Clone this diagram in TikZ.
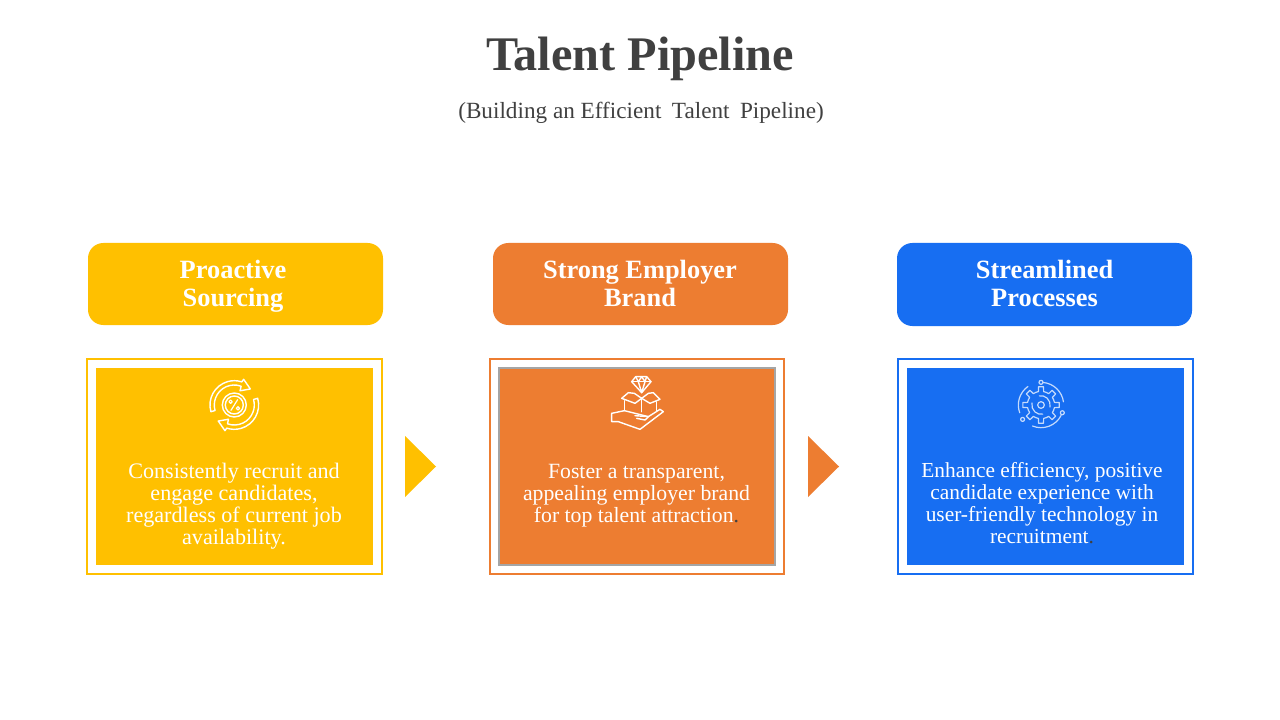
\documentclass[tikz,border=0pt]{standalone}
\usepackage{fontspec}
\setmainfont{Liberation Serif}
\definecolor{cyellow}{HTML}{FFC000}
\definecolor{corange}{HTML}{ED7D31}
\definecolor{cblue}{HTML}{176EF2}
\definecolor{cgrey}{HTML}{A5A5A5}
\definecolor{cink}{HTML}{404040}
\definecolor{cdot}{HTML}{404040}
\tikzset{
  hdrtext/.style={text=white,align=center,font=\fontsize{19.8}{21}\selectfont\bfseries,inner sep=0},
  bodytext/.style={text=white,align=center,inner sep=0},
  ticon/.style={line width=1.05pt,draw=white,line join=round,line cap=round},
  gicon/.style={line width=.9pt,draw=white!75!cblue,line join=round,line cap=round},
}
\begin{document}
\begin{tikzpicture}[x=.75pt,y=-.75pt]
\useasboundingbox (0,0) rectangle (1280,720);
\fill[white] (0,0) rectangle (1280,720);
\node[text=cink,font=\fontsize{36.2}{38}\selectfont\bfseries,inner sep=0] (title) at (640,59) {Talent Pipeline};
\node[text=cink,font=\fontsize{17.4}{20}\selectfont,inner sep=0] (subtitle) at (641,113) {(Building an Efficient\hspace{.2em} Talent\hspace{.2em} Pipeline)};

% headers
\fill[cyellow,rounded corners=11.5pt] (88,243) rectangle (383,325);
\fill[corange,rounded corners=11.5pt] (493,243) rectangle (788,325);
\fill[cblue,rounded corners=11.5pt] (897,243) rectangle (1192,326);
\node[hdrtext] (h1) at (233,286.5) {Proactive\\Sourcing};
\node[hdrtext] (h2) at (640,283.5) {Strong Employer\\Brand};
\node[hdrtext] (h3) at (1044.5,283.5) {Streamlined\\Processes};

% frames
\draw[cyellow,line width=1.5pt] (87,359) rectangle (382,574);
\draw[corange,line width=1.5pt] (490,359) rectangle (784,574);
\draw[cblue,line width=1.5pt] (898,359) rectangle (1193,574);
\fill[cyellow] (96,368) rectangle (373,565);
\draw[cgrey,line width=2.2pt,fill=corange] (499,368) rectangle (775,565);
\fill[cblue] (907,368) rectangle (1184,565);

% chevrons
\fill[cyellow] (405,436) -- (436,466.5) -- (405,497) -- cycle;
\fill[corange] (808,436) -- (839,466.5) -- (808,497) -- cycle;

% body texts
\node[bodytext,font=\fontsize{16.6}{16.5}\selectfont] (b1) at (234,506) {Consistently recruit and\\engage candidates,\\regardless of current job\\availability.};
\node[bodytext,font=\fontsize{16.3}{16.5}\selectfont] (b2) at (636.5,496) {Foster a transparent,\\appealing employer brand\\for top talent attraction\textcolor{cdot}{.}};
\node[bodytext,font=\fontsize{16.05}{16.5}\selectfont] (b3) at (1042,503) {Enhance efficiency, positive\\candidate experience with\\user-friendly technology in\\recruitment\textcolor{cdot}{.}};

% icon 1: recycling percent
\begin{scope}[shift={(234.3,405)},x=.25pt,y=.25pt,ticon]
  \draw (0,0) circle (36);
  \draw (0,0) circle (27);
  \draw[line width=.9pt] (-10,-16) -- (10,16);
  \draw[line width=.9pt] (-11,10) circle (5);
  \draw[line width=.9pt] (11,-10) circle (5);
  \foreach \r in {0,180}{
    \begin{scope}[rotate=\r]
      \draw (196:73) arc (196:72:73) -- (70:82) -- (45:68) -- (68:46) -- (70:60) arc (70:196:60) -- cycle;
    \end{scope}
  }
\end{scope}

% icon 2: hand, box, diamond
\begin{scope}[shift={(595,370)},x=.25pt,y=-.25pt,ticon]
  \draw (110,35) -- (122,20) -- (155,20) -- (168,35) -- (140,68) -- cycle;
  \draw (110,35) -- (168,35);
  \draw (122,20) -- (130,35) -- (140,20) -- (150,35) -- (155,20);
  \draw (130,35) -- (140,68) -- (150,35);
  \draw (118,70) -- (100,68) -- (80,85) -- (120,100) -- (140,85) -- (165,100) -- (195,88) -- (175,68) -- (160,70);
  \draw (118,70) -- (140,85) -- (160,70);
  \draw (88,92) -- (88,122);
  \draw (185,95) -- (185,122);
  \draw (140,85) -- (140,125);
  \draw (50,130) -- (50,155) -- (70,155) -- (135,178) -- (205,125) -- (195,118) -- (160,140) -- (120,137);
  \draw (50,130) -- (88,122) -- (160,140) -- (150,150) -- (125,145);
\end{scope}

% icon 3: gear
\begin{scope}[shift={(1041,405)},x=.25pt,y=.25pt,gicon]
  \draw (0,0) circle (10);
  \draw (-27,6) arc (168:280:28);
  \draw (27,-6) arc (-12:100:28);
  \draw \foreach \a in {0,45,...,315}{
      (\a-22.5:41) -- (\a-11:41) -- (\a-8:55) -- (\a+8:55) -- (\a+11:41) -- (\a+22.5:41)
    };
  \draw (90:68) circle (6);
  \draw (84:68) arc (84:8:68);
  \draw (-20:68) circle (6);
  \draw (-27:68) arc (-27:-112:68);
  \draw (-142:70) circle (6);
  \draw (-160:68) arc (-160:-235:68);
\end{scope}
\end{tikzpicture}
\end{document}
